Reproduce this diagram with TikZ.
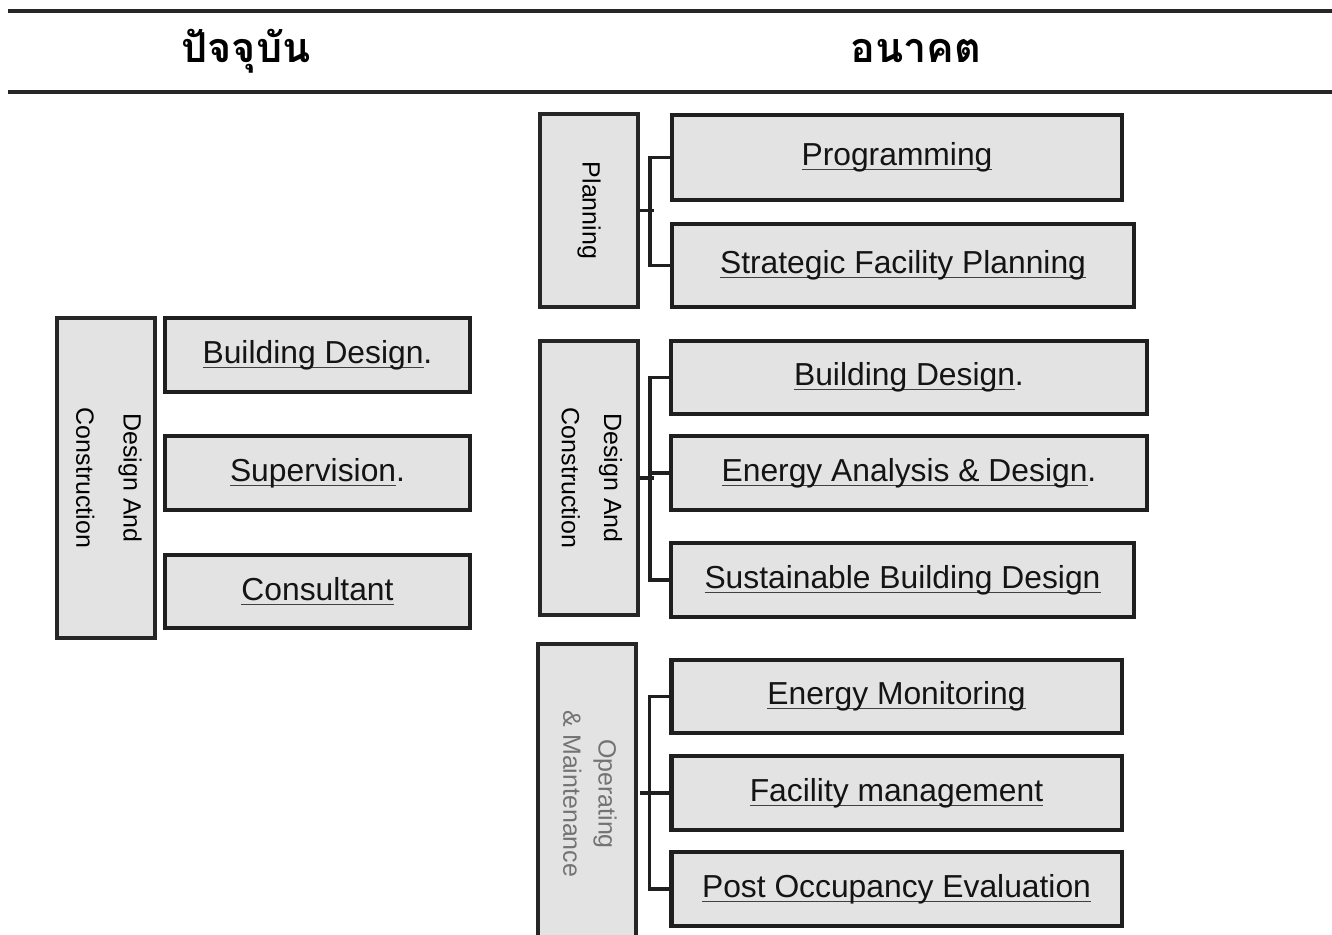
\documentclass[tikz,border=0pt]{standalone}
\usepackage{graphicx}
\usepackage{fontspec}
\setmainfont{Liberation Sans}
\newfontfamily\thaifont[Script=Thai]{Loma}
\usetikzlibrary{positioning}
% underlined label, rule sits just under the baseline
\newcommand{\ulbox}[1]{\setbox0\hbox{#1}\rlap{\color{black!75}\rule[-2.6pt]{\wd0}{0.7pt}}\box0}

\begin{document}
\begin{tikzpicture}[x=0.02cm, y=-0.02cm,
    item/.style={draw=black!88, line width=2.3pt, fill=black!11, inner sep=0pt,
                 font=\fontsize{18.1}{20}\selectfont, text=black!92},
    group/.style={draw=black!85, line width=1.8pt, fill=black!11, inner sep=0pt,
                  minimum width=1.96cm, font=\fontsize{14.2}{17}\selectfont},
    bracket/.style={line width=2.1pt, draw=black!88},
    rule/.style={line width=2.4pt, draw=black!85},
    head/.style={font=\fontsize{23.5}{28}\selectfont\thaifont\bfseries}]
\useasboundingbox (0,0) rectangle (1332,935);

% header
\draw[rule] (8,11) -- (1332,11);
\draw[rule] (8,92) -- (1332,92);
\node[head] (now) at (246,51) {ปัจจุบัน};
\node[head] (future) at (916,51) {อนาคต};

% left column
\node[group, minimum height=6.4cm] (lcat) at (106,478) {\rotatebox[origin=c]{-90}{\begin{tabular}{@{}c@{}}Design And\\[10pt]Construction\end{tabular}}};
\node[item, minimum width=6.1cm, minimum height=1.48cm] (lbd) at (317.5,355) {\ulbox{Building Design}.};
\node[item, minimum width=6.1cm, minimum height=1.48cm] (lsup) at (317.5,473) {\ulbox{Supervision}.};
\node[item, minimum width=6.1cm, minimum height=1.46cm] (lcon) at (317.5,591.5) {\ulbox{Consultant}};

% planning
\node[group, minimum height=3.86cm] (plan) at (589,210.5) {\rotatebox[origin=c]{-90}{Planning}};
\node[item, minimum width=9cm, minimum height=1.7cm] (prog) at (897,157.5) {\ulbox{Programming}};
\node[item, minimum width=9.24cm, minimum height=1.66cm] (sfp) at (903,265.5) {\ulbox{Strategic Facility Planning}};

% design and construction
\node[group, minimum height=5.48cm] (dc) at (589,478) {\rotatebox[origin=c]{-90}{\begin{tabular}{@{}c@{}}Design And\\[7pt]Construction\end{tabular}}};
\node[item, minimum width=9.52cm, minimum height=1.46cm] (bd) at (909,377.5) {\ulbox{Building Design}.};
\node[item, minimum width=9.52cm, minimum height=1.48cm] (ea) at (909,473) {\ulbox{Energy Analysis \& Design}.};
\node[item, minimum width=9.26cm, minimum height=1.48cm] (sbd) at (902.5,580) {\ulbox{Sustainable Building Design}};

% operating and maintenance
\node[group, minimum height=6cm, text=black!55] (om) at (587,794) {\rotatebox[origin=c]{-90}{\begin{tabular}{@{}c@{}}Operating\\[3pt]\& Maintenance\end{tabular}}};
\node[item, line width=2.8pt, minimum width=9.02cm, minimum height=1.46cm] (em) at (896.5,696.5) {\ulbox{Energy Monitoring}};
\node[item, line width=2.8pt, minimum width=9.02cm, minimum height=1.48cm] (fm) at (896.5,793) {\ulbox{Facility management}};
\node[item, line width=2.8pt, minimum width=9.02cm, minimum height=1.48cm] (poe) at (896.5,889) {\ulbox{Post Occupancy Evaluation}};

% brackets
\draw[bracket] (plan.east) -- ++(14,0);
\draw[bracket] (prog.west) -- ++(-20,0) |- (sfp.west);
\draw[bracket] (dc.east) -- ++(14,0);
\draw[bracket] (bd.west) -- ++(-19,0) |- (sbd.west);
\draw[bracket] (ea.west) -- ++(-19,0);
\draw[bracket] (plan.east |- fm.west) -- ++(16,0);
\draw[bracket] (em.west) -- ++(-19,0) |- (poe.west);
\draw[bracket] (fm.west) -- ++(-19,0);
\end{tikzpicture}
\end{document}
